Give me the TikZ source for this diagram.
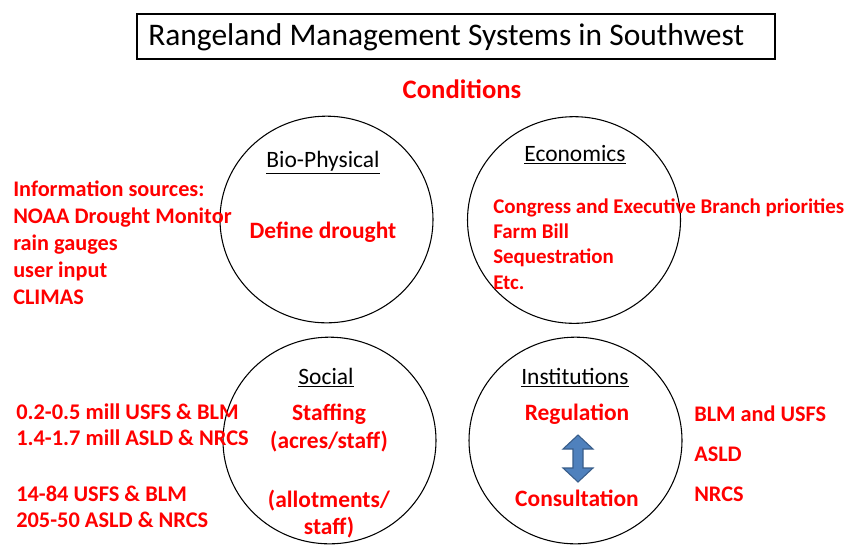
\documentclass[tikz,border=0pt]{standalone}
\usepackage{fontspec}
\setmainfont{Carlito}
\usetikzlibrary{shapes.geometric}
\definecolor{condred}{RGB}{255,0,0}
\definecolor{arrowblue}{RGB}{79,129,189}
\definecolor{arrowedge}{RGB}{56,93,138}

\begin{document}
\begin{tikzpicture}[x=0.75pt,y=-0.75pt,
	ring/.style={draw,ellipse,line width=0.8pt,minimum width=159.75pt,minimum height=155pt,inner sep=0pt},
	head/.style={font=\fontsize{17.6}{21}\selectfont},
	redtext/.style={text=condred,font=\fontsize{#1}{24}\bfseries\selectfont,inner sep=0pt},
	redlist/.style 2 args={text=condred,align=left,inner sep=0pt,font=\fontsize{#1}{#2}\bfseries\selectfont},
	blockarrow/.style={fill=arrowblue,draw=arrowedge,line width=0.8pt,line join=miter}]
	\useasboundingbox (0,0) rectangle (848,544);

	% Title
	\node[draw,line width=1.5pt,minimum width=478.5pt,minimum height=33.75pt,inner sep=0pt] (title) at (456,36.5) {};
	\node[anchor=west,inner sep=0pt,font=\fontsize{23.6}{28}\selectfont] (titletext) at (148,37.5) {Rangeland Management Systems in Southwest};
	\node[redtext=20] (cond) at (462,89.5) {Conditions};

	% Bio-Physical
	\node[ring] (bio) at (326.5,219.5) {};
	\node[head] (biohead) at (323,163) {\underline{Bio-Physical}};
	\node[redtext=17.6] (drought) at (323,232) {Define drought};
	\node[redlist={16.7}{20.25},anchor=west] (sources) at (13,243) {Information sources:\\NOAA Drought Monitor\\rain gauges\\user input\\CLIMAS};

	% Economics
	\node[ring] (econ) at (574,220) {};
	\node[head] (econhead) at (575,155) {\underline{Economics}};
	\node[redlist={15.7}{19},anchor=west] (econlist) at (493,244) {Congress and Executive Branch priorities\\Farm Bill\\Sequestration\\Etc.};

	% Social
	\node[ring] (social) at (329.5,440.5) {};
	\node[head] (socialhead) at (326,377.5) {\underline{Social}};
	\node[redlist={17.6}{21},align=center] (acres) at (329,428) {Staffing\\(acres/staff)};
	\node[redlist={17.6}{20.25},align=center] (allot) at (329,514) {(allotments/\\staff)};
	\node[redlist={16.8}{19.5},anchor=west] (acresnum) at (16,425) {0.2-0.5 mill USFS \& BLM\\1.4-1.7 mill ASLD \& NRCS};
	\node[redlist={16.8}{19.5},anchor=west] (allotnum) at (16,506.5) {14-84 USFS \& BLM\\205-50 ASLD \& NRCS};

	% Institutions
	\node[ring] (inst) at (575.5,440.5) {};
	\node[head] (insthead) at (575,377.5) {\underline{Institutions}};
	\node[redtext=17.6] (regul) at (577,414) {Regulation};
	\node[redtext=17.6] (consult) at (577,498.5) {Consultation};
	\draw[blockarrow] (578,435) -- (593,449) -- (583,449) -- (583,468) -- (593,468) -- (578,482)
		-- (563,468) -- (573,468) -- (573,449) -- (563,449) -- cycle;
	\node[redlist={16.7}{30},anchor=west] (agencies) at (694,454) {BLM and USFS\\ASLD\\NRCS};
\end{tikzpicture}
\end{document}
